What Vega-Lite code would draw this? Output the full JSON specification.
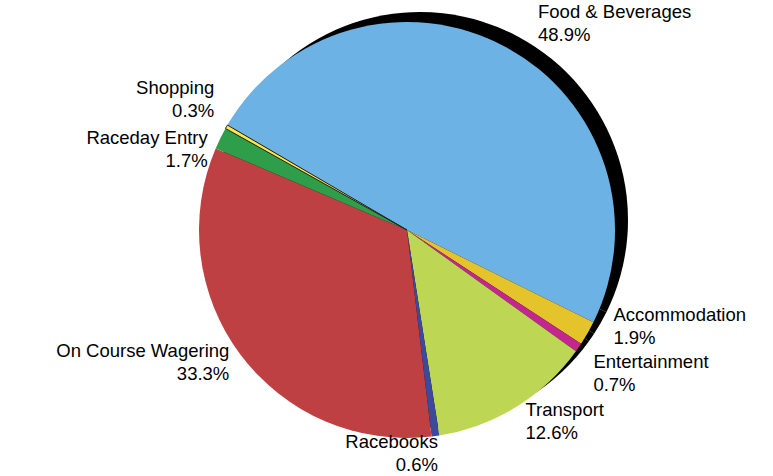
{
  "$schema": "https://vega.github.io/schema/vega-lite/v6.json",
  "width": 732,
  "height": 460,
  "autosize": {"type": "none"},
  "padding": {"left": 41, "right": 0, "top": 0, "bottom": 16},
  "background": "white",
  "config": {"view": {"stroke": null}, "font": "Liberation Sans"},
  "data": {
    "values": [
      {"category": "Food & Beverages", "share": 0.489, "rank": 1},
      {"category": "Accommodation", "share": 0.019, "rank": 2},
      {"category": "Entertainment", "share": 0.007, "rank": 3},
      {"category": "Transport", "share": 0.126, "rank": 4},
      {"category": "Racebooks", "share": 0.006, "rank": 5},
      {"category": "On Course Wagering", "share": 0.333, "rank": 6},
      {"category": "Raceday Entry", "share": 0.017, "rank": 7},
      {"category": "Shopping", "share": 0.003, "rank": 8}
    ]
  },
  "encoding": {
    "theta": {"field": "share", "type": "quantitative", "stack": true, "scale": {"range": [5.2412, 11.5244]}},
    "order": {"field": "rank", "type": "quantitative"}
  },
  "layer": [
    {
      "mark": {"type": "arc", "outerRadius": 208, "fill": "black", "xOffset": 13, "yOffset": -10}
    },
    {
      "mark": {"type": "arc", "outerRadius": 208},
      "encoding": {
        "color": {
          "field": "category",
          "type": "nominal",
          "legend": null,
          "scale": {
            "domain": ["Food & Beverages", "Accommodation", "Entertainment", "Transport", "Racebooks", "On Course Wagering", "Raceday Entry", "Shopping"],
            "range": ["#6CB2E4", "#E5C32B", "#C3268F", "#BDD653", "#3B4A9C", "#BF4042", "#2E9E4B", "#F5E94A"]
          }
        },
        "stroke": {"condition": {"test": "datum.category === 'Shopping'", "value": "#222222"}, "value": null},
        "strokeWidth": {"value": 1}
      }
    },
    {
      "mark": {
        "type": "text",
        "fontSize": 18.5,
        "baseline": "bottom",
        "align": {"expr": "indexof(['Food & Beverages','Accommodation','Entertainment','Transport'], datum.category) >= 0 ? 'left' : 'right'"},
        "radius": {"expr": "datum.category === 'Food & Beverages' ? 234 : datum.category === 'Accommodation' ? 232 : datum.category === 'Racebooks' ? 226 : (datum.category === 'On Course Wagering' || datum.category === 'Raceday Entry' || datum.category === 'Shopping') ? 222 : 226"},
        "dx": {"expr": "datum.category === 'Food & Beverages' ? 20 : datum.category === 'Accommodation' ? 5 : 0"},
        "dy": {"expr": "(datum.category === 'Accommodation' ? -18 : datum.category === 'Entertainment' ? 16 : datum.category === 'Shopping' ? -20 : datum.category === 'Raceday Entry' ? 18 : 0) - 2"},
        "color": "black"
      },
      "encoding": {"text": {"field": "category", "type": "nominal"}}
    },
    {
      "mark": {
        "type": "text",
        "fontSize": 18.5,
        "baseline": "top",
        "align": {"expr": "indexof(['Food & Beverages','Accommodation','Entertainment','Transport'], datum.category) >= 0 ? 'left' : 'right'"},
        "radius": {"expr": "datum.category === 'Food & Beverages' ? 234 : datum.category === 'Accommodation' ? 232 : datum.category === 'Racebooks' ? 226 : (datum.category === 'On Course Wagering' || datum.category === 'Raceday Entry' || datum.category === 'Shopping') ? 222 : 226"},
        "dx": {"expr": "datum.category === 'Food & Beverages' ? 20 : datum.category === 'Accommodation' ? 5 : 0"},
        "dy": {"expr": "(datum.category === 'Accommodation' ? -18 : datum.category === 'Entertainment' ? 16 : datum.category === 'Shopping' ? -20 : datum.category === 'Raceday Entry' ? 18 : 0) + 2"},
        "color": "black"
      },
      "encoding": {"text": {"field": "share", "type": "quantitative", "format": ".1%"}}
    }
  ]
}
